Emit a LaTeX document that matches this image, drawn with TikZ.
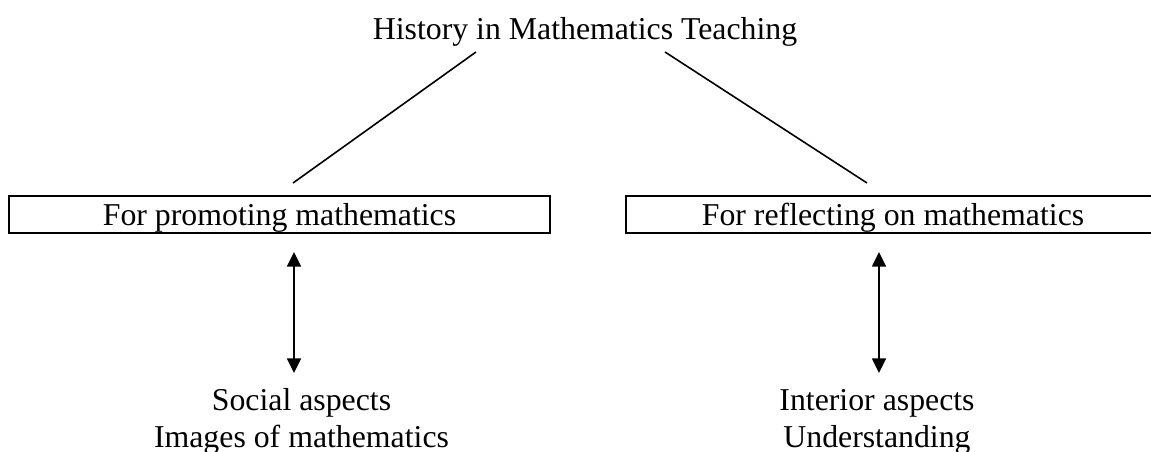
\documentclass[tikz,border=0pt]{standalone}
\usepackage{fontspec}
\setmainfont{Liberation Serif}
\usetikzlibrary{arrows.meta}
\begin{document}
\begin{tikzpicture}[x=0.75pt,y=-0.75pt,
  txt/.style={font=\fontsize{23.85pt}{27.75pt}\selectfont, inner sep=0pt},
  boxnode/.style={txt, draw, line width=1.6pt, minimum height=27.75pt, text height=18pt, text depth=2.25pt},
  link/.style={line width=1.2pt},
  biarrow/.style={line width=1.2pt, {Triangle[length=11pt,width=10.5pt]}-{Triangle[length=11pt,width=10.5pt]}}]
\useasboundingbox (0,0) rectangle (1151,452);
\clip (0,0) rectangle (1151,452);
\node[txt, anchor=base] (title) at (585,40) {History in Mathematics Teaching};
\node[boxnode, minimum width=405.75pt] (promo) at (279.5,214.5) {For promoting mathematics};
\node[boxnode, minimum width=400.5pt] (reflect) at (893,214.5) {For reflecting on mathematics};
\node[txt, anchor=base, align=center] (social) at (301.5,447) {Social aspects\\Images of mathematics};
\node[txt, anchor=base, align=center] (interior) at (877,447) {Interior aspects\\Understanding};
\coordinate (tl) at (476,52);
\coordinate (pl) at (293,183);
\coordinate (tr) at (665,52);
\coordinate (rl) at (867,183);
\coordinate (pa1) at (294,252);
\coordinate (pa2) at (294,373);
\coordinate (ra1) at (879,252);
\coordinate (ra2) at (879,373);
\draw[link] (tl) -- (pl);
\draw[link] (tr) -- (rl);
\draw[biarrow] (pa1) -- (pa2);
\draw[biarrow] (ra1) -- (ra2);
\end{tikzpicture}
\end{document}
